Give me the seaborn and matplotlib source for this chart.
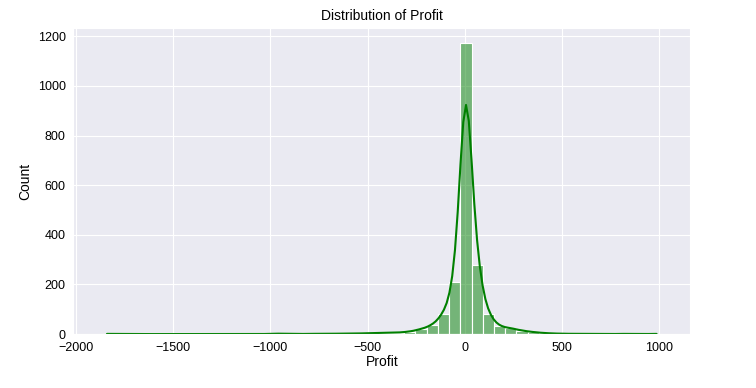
import numpy as np
import pandas as pd
import seaborn as sns
import matplotlib.pyplot as plt

# Profit histogram, 50 bins
profit_min = -1870
profit_max = 1015
bin_counts = [1, 0, 0, 0, 0, 0, 0, 0, 0, 0,
              0, 0, 0, 0, 0, 2, 1, 0, 1, 1,
              1, 2, 2, 3, 4, 5, 6, 10, 20, 36,
              82, 209, 1175, 280, 79, 31, 24, 14, 8, 4,
              2, 1, 1, 1, 0, 0, 1, 0, 0, 1]

edges = np.linspace(profit_min, profit_max, len(bin_counts) + 1)
df = pd.DataFrame({'Profit': (edges[:-1] + edges[1:]) / 2,
                   'Count': bin_counts})

sns.set_style("darkgrid")
plt.rcParams['font.family'] = ['Liberation Sans', 'DejaVu Sans']
plt.rcParams['text.color'] = 'black'
plt.rcParams['axes.labelcolor'] = 'black'
plt.rcParams['xtick.color'] = 'black'
plt.rcParams['ytick.color'] = 'black'

fig, ax = plt.subplots(figsize=(7.56, 3.88), dpi=100)
fig.subplots_adjust(left=0.097, right=0.913, top=0.928, bottom=0.139)

# weighted bins give a tiny effective n, so narrow the kde to match
sns.histplot(data=df, x='Profit', weights='Count', bins=len(bin_counts),
             binrange=(profit_min, profit_max), kde=True,
             kde_kws={'bw_adjust': 0.26}, color='green', ax=ax)

ax.set_title('Distribution of Profit', fontsize=10)
ax.set_xlabel('Profit', fontsize=10, labelpad=1)
ax.set_ylabel('Count', fontsize=10)
ax.tick_params(labelsize=9, pad=2)

plt.savefig('out.png', dpi=100)
